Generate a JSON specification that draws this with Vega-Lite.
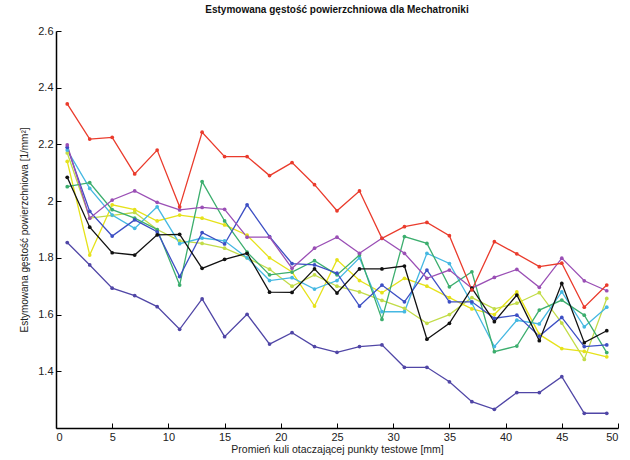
{
  "$schema": "https://vega.github.io/schema/vega-lite/v6.json",
  "autosize": "none",
  "width": 562,
  "height": 397,
  "padding": {"left": 56, "top": 31, "right": 12, "bottom": 32},
  "background": "white",
  "config": {"view": {"stroke": null}, "font": "Liberation Sans"},
  "title": {"text": "Estymowana gęstość powierzchniowa dla Mechatroniki", "fontSize": 10, "fontWeight": "bold", "font": "Liberation Sans", "offset": 10, "color": "#111"},
  "datasets": {
    "wide": [
      {"x":1,"red":2.343,"purple":2.198,"black":2.084,"indigo":1.854,"blue":2.19,"cyan":2.18,"green":2.051,"yellow":2.14,"lime":2.17},
      {"x":3,"red":2.219,"purple":1.94,"black":1.908,"indigo":1.775,"blue":1.964,"cyan":2.045,"green":2.065,"yellow":1.81,"lime":1.94},
      {"x":5,"red":2.225,"purple":2.004,"black":1.818,"indigo":1.693,"blue":1.877,"cyan":1.951,"green":1.97,"yellow":1.987,"lime":1.95},
      {"x":7,"red":2.096,"purple":2.036,"black":1.81,"indigo":1.667,"blue":1.934,"cyan":1.904,"green":1.94,"yellow":1.97,"lime":1.96},
      {"x":9,"red":2.18,"purple":1.996,"black":1.881,"indigo":1.628,"blue":1.892,"cyan":1.98,"green":1.9,"yellow":1.93,"lime":1.9},
      {"x":11,"red":1.98,"purple":1.969,"black":1.883,"indigo":1.548,"blue":1.734,"cyan":1.85,"green":1.704,"yellow":1.951,"lime":1.86},
      {"x":13,"red":2.243,"purple":1.978,"black":1.763,"indigo":1.655,"blue":1.889,"cyan":1.87,"green":2.069,"yellow":1.94,"lime":1.851},
      {"x":15,"red":2.157,"purple":1.971,"black":1.795,"indigo":1.522,"blue":1.849,"cyan":1.86,"green":1.93,"yellow":1.916,"lime":1.834},
      {"x":17,"red":2.157,"purple":1.873,"black":1.816,"indigo":1.601,"blue":1.987,"cyan":1.8,"green":1.82,"yellow":1.88,"lime":1.8},
      {"x":19,"red":2.09,"purple":1.873,"black":1.679,"indigo":1.496,"blue":1.875,"cyan":1.72,"green":1.74,"yellow":1.8,"lime":1.76},
      {"x":21,"red":2.136,"purple":1.763,"black":1.678,"indigo":1.536,"blue":1.78,"cyan":1.73,"green":1.75,"yellow":1.75,"lime":1.7},
      {"x":23,"red":2.058,"purple":1.834,"black":1.761,"indigo":1.487,"blue":1.775,"cyan":1.69,"green":1.79,"yellow":1.63,"lime":1.74},
      {"x":25,"red":1.966,"purple":1.873,"black":1.676,"indigo":1.467,"blue":1.746,"cyan":1.72,"green":1.74,"yellow":1.793,"lime":1.7},
      {"x":27,"red":2.036,"purple":1.816,"black":1.761,"indigo":1.487,"blue":1.63,"cyan":1.8,"green":1.81,"yellow":1.72,"lime":1.68},
      {"x":29,"red":1.869,"purple":1.869,"black":1.761,"indigo":1.493,"blue":1.704,"cyan":1.61,"green":1.583,"yellow":1.677,"lime":1.65},
      {"x":31,"red":1.91,"purple":1.816,"black":1.771,"indigo":1.414,"blue":1.645,"cyan":1.61,"green":1.875,"yellow":1.728,"lime":1.622},
      {"x":33,"red":1.925,"purple":1.728,"black":1.513,"indigo":1.414,"blue":1.757,"cyan":1.816,"green":1.851,"yellow":1.7,"lime":1.569},
      {"x":35,"red":1.878,"purple":1.757,"black":1.569,"indigo":1.363,"blue":1.645,"cyan":1.78,"green":1.698,"yellow":1.66,"lime":1.6},
      {"x":37,"red":1.687,"purple":1.693,"black":1.693,"indigo":1.293,"blue":1.645,"cyan":1.64,"green":1.751,"yellow":1.62,"lime":1.66},
      {"x":39,"red":1.857,"purple":1.731,"black":1.575,"indigo":1.266,"blue":1.587,"cyan":1.487,"green":1.469,"yellow":1.6,"lime":1.62},
      {"x":41,"red":1.814,"purple":1.759,"black":1.669,"indigo":1.325,"blue":1.598,"cyan":1.58,"green":1.489,"yellow":1.68,"lime":1.64},
      {"x":43,"red":1.769,"purple":1.696,"black":1.508,"indigo":1.325,"blue":1.524,"cyan":1.567,"green":1.616,"yellow":1.53,"lime":1.677},
      {"x":45,"red":1.781,"purple":1.799,"black":1.71,"indigo":1.381,"blue":1.59,"cyan":1.68,"green":1.651,"yellow":1.48,"lime":1.57},
      {"x":47,"red":1.626,"purple":1.719,"black":1.501,"indigo":1.252,"blue":1.487,"cyan":1.557,"green":1.598,"yellow":1.47,"lime":1.442},
      {"x":49,"red":1.704,"purple":1.684,"black":1.543,"indigo":1.252,"blue":1.493,"cyan":1.626,"green":1.466,"yellow":1.451,"lime":1.657}
    ]
  },
  "data": {"name": "wide"},
  "transform": [{"fold": ["lime","yellow","cyan","green","blue","indigo","purple","black","red"], "as": ["s", "y"]}],
  "encoding": {
    "x": {"field": "x", "type": "quantitative", "scale": {"domain": [0, 50], "nice": false},
      "axis": {"values": [0,5,10,15,20,25,30,35,40,45,50], "title": "Promień kuli otaczającej punkty testowe [mm]", "grid": false, "domainColor": "#000", "domainWidth": 1.5, "tickColor": "#000", "tickSize": -5, "labelFontSize": 11, "labelColor": "#222", "labelPadding": 8, "titleFontSize": 10.5, "titleFontWeight": "normal", "titleColor": "#222", "titlePadding": 2, "labelFont": "Liberation Sans", "titleFont": "Liberation Sans"}},
    "y": {"field": "y", "type": "quantitative", "scale": {"domain": [1.2, 2.6], "nice": false, "zero": false},
      "axis": {"values": [1.4,1.6,1.8,2.0,2.2,2.4,2.6], "format": ".1~f", "title": "Estymowana gęstość powierzchniowa [1/mm²]", "grid": false, "domainColor": "#000", "domainWidth": 1.5, "tickColor": "#000", "tickSize": -5, "labelFontSize": 11, "labelColor": "#222", "labelPadding": 8, "titleFontSize": 10, "titleFontWeight": "normal", "titleColor": "#222", "titlePadding": 8, "labelFont": "Liberation Sans", "titleFont": "Liberation Sans"}},
    "color": {"field": "s", "type": "nominal", "legend": null,
      "scale": {"domain": ["red","purple","black","indigo","blue","cyan","green","yellow","lime"],
                "range": ["#ea3b2c","#9a4fb5","#111111","#5046a6","#3d4fc4","#45b8e2","#3cae6e","#e6e21a","#c2dc48"]}},
    "detail": {"field": "s"}
  },
  "layer": [
    {"mark": {"type": "line", "strokeWidth": 1.3}},
    {"mark": {"type": "circle", "size": 14, "opacity": 1}}
  ]
}
